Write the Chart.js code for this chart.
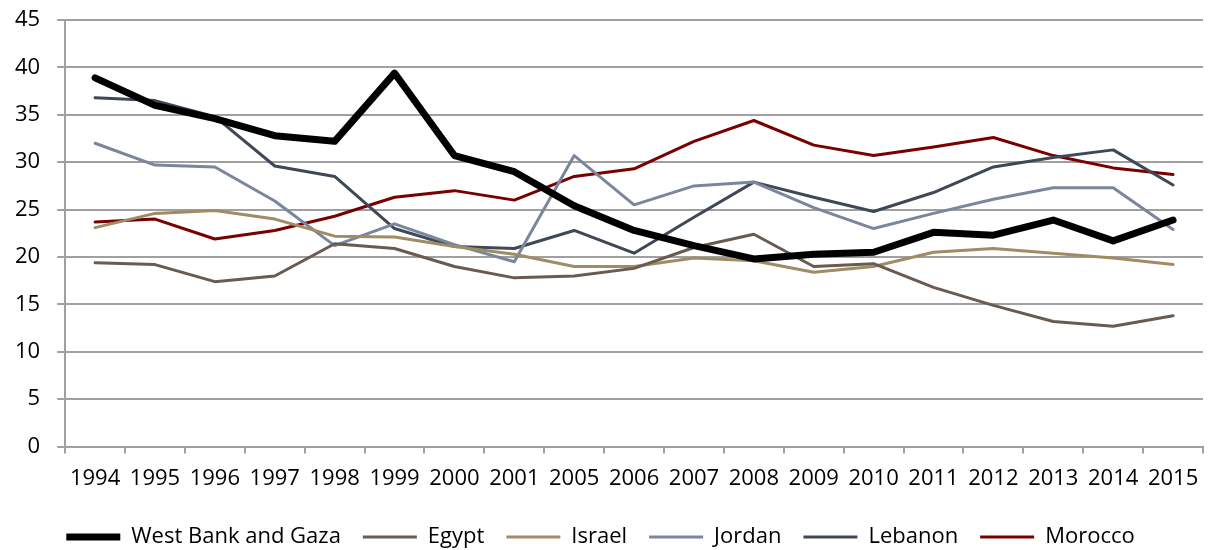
<!DOCTYPE html>
<html>
<head>
<meta charset="utf-8">
<script src="https://cdn.jsdelivr.net/npm/chart.js@4/dist/chart.umd.min.js"></script>
<style>
  html, body { margin: 0; padding: 0; background: #fff; }
  #wrap { width: 1213px; height: 550px; }
</style>
</head>
<body>
<div id="wrap"><canvas id="myChart" width="1213" height="550"></canvas></div>
<script>
var years = ['1994','1995','1996','1997','1998','1999','2000','2001','2005','2006','2007','2008','2009','2010','2011','2012','2013','2014','2015'];

var westBankGaza = [38.9, 36.0, 34.6, 32.8, 32.2, 39.4, 30.7, 29.0, 25.4, 22.8, 21.2, 19.8, 20.3, 20.5, 22.6, 22.3, 23.9, 21.7, 23.9];
var egypt        = [19.4, 19.2, 17.4, 18.0, 21.4, 20.9, 19.0, 17.8, 18.0, 18.8, 21.0, 22.4, 19.0, 19.3, 16.8, 14.9, 13.2, 12.7, 13.8];
var israel       = [23.1, 24.6, 24.9, 24.0, 22.2, 22.1, 21.1, 20.3, 19.0, 19.0, 19.9, 19.6, 18.4, 19.0, 20.5, 20.9, 20.4, 19.9, 19.2];
var jordan       = [32.0, 29.7, 29.5, 25.9, 21.2, 23.5, 21.3, 19.5, 30.7, 25.5, 27.5, 27.9, 25.2, 23.0, 24.6, 26.1, 27.3, 27.3, 22.9];
var lebanon      = [36.8, 36.5, 34.8, 29.6, 28.5, 23.0, 21.1, 20.9, 22.8, 20.4, 24.2, 27.9, 26.3, 24.8, 26.8, 29.5, 30.5, 31.3, 27.6];
var morocco      = [23.7, 24.0, 21.9, 22.8, 24.3, 26.3, 27.0, 26.0, 28.5, 29.3, 32.2, 34.4, 31.8, 30.7, 31.6, 32.6, 30.7, 29.4, 28.7];

var yTicks = [0, 5, 10, 15, 20, 25, 30, 35, 40, 45];

function series(label, data, color, width) {
	return {
		label: label,
		data: data,
		borderColor: color,
		backgroundColor: color,
		borderWidth: width,
		borderCapStyle: 'round',
		borderJoinStyle: 'round',
		pointRadius: 0,
		pointHoverRadius: 0,
		tension: 0,
		fill: false
	};
}

var font = { family: '"Open Sans", "Liberation Sans", sans-serif', size: 22 };
var gridColor = '#a0a0a0';

new Chart(document.getElementById('myChart').getContext('2d'), {
	type: 'line',
	data: {
		labels: years,
		datasets: [
			series('West Bank and Gaza', westBankGaza, '#000000', 7),
			series('Egypt', egypt, '#6a5a50', 3),
			series('Israel', israel, '#a08c64', 3),
			series('Jordan', jordan, '#7a869e', 3),
			series('Lebanon', lebanon, '#3e4856', 3),
			series('Morocco', morocco, '#780000', 3)
		]
	},
	options: {
		responsive: false,
		animation: false,
		layout: { padding: { top: 20, right: 10, left: -2, bottom: -8 } },
		plugins: {
			tooltip: { enabled: false },
			legend: {
				position: 'bottom',
				labels: {
					color: '#000',
					font: font,
					usePointStyle: true,
					pointStyle: 'line',
					pointStyleWidth: 54,
					padding: 22
				}
			}
		},
		scales: {
			x: {
				offset: true,
				grid: {
					offset: true,
					drawOnChartArea: false,
					color: gridColor,
					lineWidth: 2,
					tickLength: 7
				},
				border: { color: gridColor, width: 2 },
				ticks: { color: '#000', font: font, maxRotation: 0, autoSkip: false, padding: 12 }
			},
			y: {
				min: 0,
				max: 45,
				afterBuildTicks: function(scale) {
					scale.ticks = yTicks.map(function(v) { return { value: v }; });
				},
				// label padding would otherwise push the plot top down
				afterFit: function(scale) {
					scale.paddingTop = 0;
				},
				grid: { color: gridColor, lineWidth: 2, tickLength: 8 },
				border: { color: gridColor, width: 2 },
				ticks: { color: '#000', font: font, padding: 17 }
			}
		}
	}
});
</script>
</body>
</html>
